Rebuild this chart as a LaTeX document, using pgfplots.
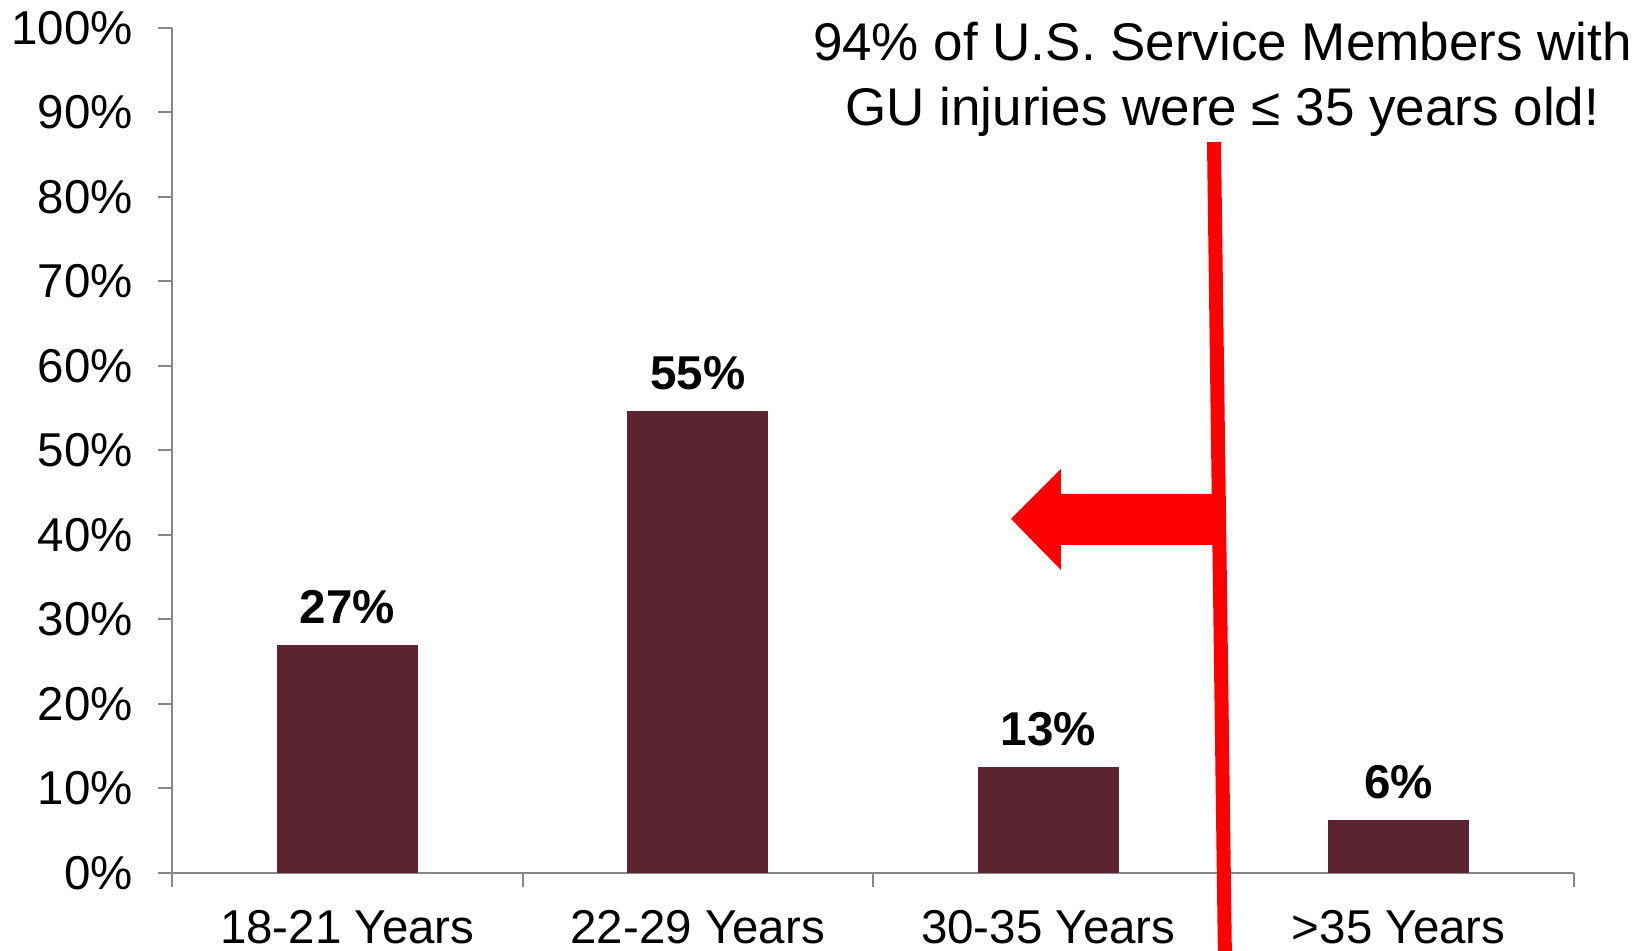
\documentclass[border=0pt]{standalone}
\usepackage{pgfplots}
\pgfplotsset{compat=1.18}
\usepackage{fontspec}
\setmainfont{Liberation Sans}
\definecolor{barc}{RGB}{92,35,49}
\definecolor{axc}{RGB}{134,134,134}
\definecolor{redc}{RGB}{255,0,0}
\begin{document}
\begin{tikzpicture}[font=\fontsize{19}{23}\selectfont]
\begin{axis}[
  scale only axis,
  width=560.8pt, height=338pt,
  xmin=-0.5, xmax=3.5, ymin=0, ymax=100,
  axis lines=left,
  axis line style={-, draw=axc, line width=0.8pt},
  xtick={0,1,2,3},
  xticklabels={18-21 Years,22-29 Years,30-35 Years,>35 Years},
  minor xtick={-0.5,0.5,1.5,2.5,3.5},
  ytick={0,10,20,30,40,50,60,70,80,90,100},
  yticklabels={0\%,10\%,20\%,30\%,40\%,50\%,60\%,70\%,80\%,90\%,100\%},
  tick align=outside,
  major tick length=5.6pt,
  minor tick length=5.6pt,
  x tick style={draw=none},
  minor x tick style={draw=axc, line width=0.8pt},
  y tick style={draw=axc, line width=0.8pt},
  yticklabel style={xshift=-6.6pt},
  xticklabel style={yshift=-5.8pt},
  clip=false,
  ybar, bar width=0.4, bar shift=0pt,
  nodes near coords,
  point meta=explicit symbolic,
  every node near coord/.append style={font=\fontsize{19}{23}\selectfont\bfseries, text=black, yshift=5pt},
]
\addplot[fill=barc, draw=barc] coordinates {
  (0,26.9) [27\%]
  (1,54.6) [55\%]
  (2,12.5) [13\%]
  (3,6.2) [6\%]
};
\fill[redc] (axis cs:1.894,41.89) -- (axis cs:2.036,47.81) -- (axis cs:2.036,44.85) -- (axis cs:2.484,44.85)
  -- (axis cs:2.484,38.82) -- (axis cs:2.036,38.82) -- (axis cs:2.036,35.86) -- cycle;
\draw[redc, line width=5.6pt] (axis cs:2.473,86.5) -- (axis cs:2.504,-9.23);
\node[anchor=base, font=\fontsize{21.2}{25}\selectfont] at (axis cs:2.497,96.2) {94\% of U.S. Service Members with};
\node[anchor=base, font=\fontsize{21.2}{25}\selectfont] at (axis cs:2.497,88.5) {GU injuries were ≤ 35 years old!};
\coordinate (bl) at (axis cs:-0.991,-9.23);
\coordinate (tr) at (axis cs:3.720,103.31);
\end{axis}
\pgfresetboundingbox
\useasboundingbox (bl) rectangle (tr);
\end{tikzpicture}
\end{document}
